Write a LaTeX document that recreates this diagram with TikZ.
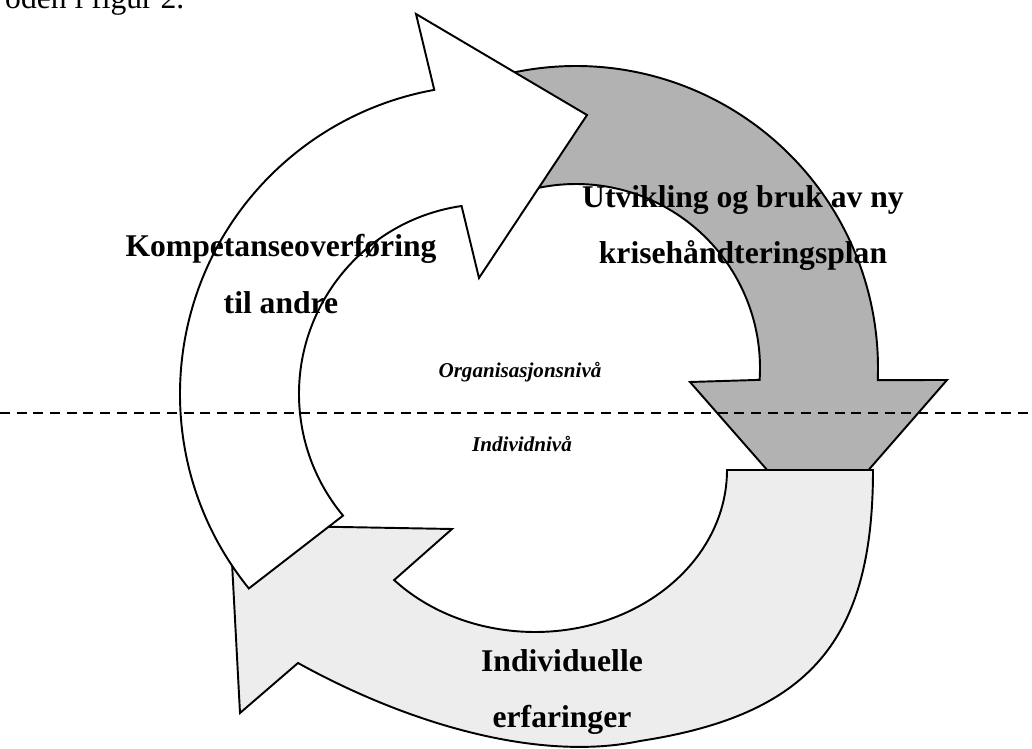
\documentclass[tikz,border=0pt]{standalone}
\usepackage{fontspec}
\setmainfont{Liberation Serif}
\usetikzlibrary{calc}
\tikzstyle{stylewhite} = [draw=black, line width=1.1pt, fill=white]
\tikzstyle{stylegray} = [draw=black, line width=1.1pt, fill=black!30]
\tikzstyle{styledots} = [draw=black, line width=1.1pt, fill=black!7]
\tikzstyle{styletext} = [font=\fontsize{18}{32}\selectfont\bfseries, align=center]
\tikzstyle{stylelevel} = [font=\fontsize{12}{14}\selectfont\bfseries\itshape, anchor=base]
\tikzstyle{styleline} = [line width=1.3pt, dash pattern=on 5.7pt off 3.8pt]

\begin{document}
\begin{tikzpicture}[x=0.02cm, y=-0.02cm]
\useasboundingbox (0,0) rectangle (1032,749);
\coordinate (W) at (489,394);
\coordinate (G) at (576,368);
\coordinate (B) at (535,470);

% gray arrow (top right)
\draw[stylegray] ($(G)+(252:302)$) arc[start angle=252, end angle=362.3, radius=302]
  -- (947,380) -- (818,528) -- (690,382)
  -- ($(G)+(363.7:184)$) arc[start angle=363.7, end angle=252, radius=184] -- cycle;

% dotted arrow (bottom)
\draw[styledots] ($(B)+(0:192 and 162)$) -- (873,470)
  .. controls (873,640) and (810,715) .. (640,741)
  .. controls (540,762) and (410,725) .. (298,663)
  -- (240,713) -- (230,525) -- (452,529)
  -- ($(B)+(137.2:192 and 162)$) arc[start angle=137.2, end angle=0, x radius=192, y radius=162] -- cycle;

% white arrow (left)
\draw[stylewhite] ($(W)+(141:309)$) arc[start angle=141, end angle=259.8, radius=309]
  -- (416,14) -- (587,115) -- (479,278)
  -- ($(W)+(261.7:190)$) arc[start angle=261.7, end angle=140.2, radius=190] -- cycle;

\coordinate (sepL) at (0,413);
\coordinate (sepR) at (1032,413);
\draw[styleline] (sepL) -- (sepR);

\node (cap) [anchor=base west, font=\fontsize{18}{22}\selectfont] at (-1,9) {oden i figur 2.};
\node (t1) [styletext] at (281,274) {Kompetanseoverføring\\til andre};
\node (t2) [styletext] at (743,228) {Utvikling og bruk av ny\\krisehåndteringsplan};
\node (t3) [styletext] at (562,692) {Individuelle\\erfaringer};
\node (n1) [stylelevel] at (520,378) {Organisasjonsnivå};
\node (n2) [stylelevel] at (522,452) {Individnivå};
\end{tikzpicture}
\end{document}
